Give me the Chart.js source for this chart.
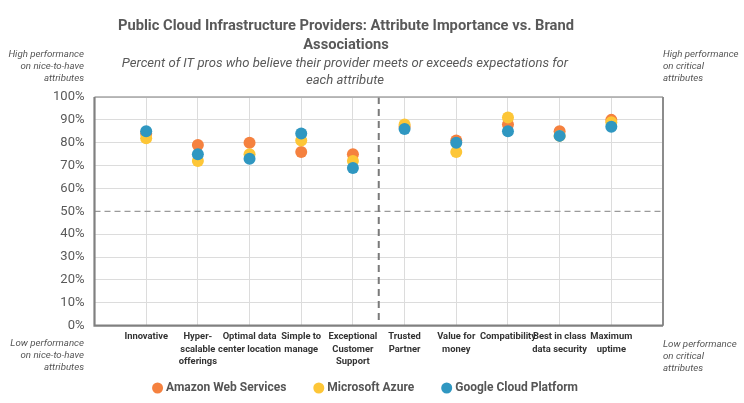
<!DOCTYPE html>
<html>
<head>
<meta charset="utf-8">
<script src="https://cdn.jsdelivr.net/npm/chart.js@4/dist/chart.umd.min.js"></script>
<style>
html,body{margin:0;padding:0;background:#fff;}
#wrap{width:744px;height:403px;position:relative;}
</style>
</head>
<body>
<div id="wrap"><canvas id="c" width="744" height="403"></canvas></div>
<script>
const categories = [
  ['Innovative'],
  ['Hyper-','scalable','offerings'],
  ['Optimal data','center location'],
  ['Simple to','manage'],
  ['Exceptional','Customer','Support'],
  ['Trusted','Partner'],
  ['Value for','money'],
  ['Compatibility'],
  ['Best in class','data security'],
  ['Maximum','uptime']
];
const seriesNames = ['Amazon Web Services','Microsoft Azure','Google Cloud Platform'];
const aws    = [84, 79, 80, 76, 75, 87, 81, 88, 85, 90];
const azure  = [82, 72, 75, 81, 72, 88, 76, 91, 83, 89];
const google = [85, 75, 73, 84, 69, 86, 80, 85, 83, 87];
const yTicks = [0,10,20,30,40,50,60,70,80,90,100];
const titleLines = ['Public Cloud Infrastructure Providers: Attribute Importance vs. Brand','Associations'];
const subtitleLines = ['Percent of IT pros who believe their provider meets or exceeds expectations for','each attribute'];
const cornerNotes = {
  tl: ['High performance','on nice-to-have','attributes'],
  tr: ['High performance','on critical','attributes'],
  bl: ['Low performance','on nice-to-have','attributes'],
  br: ['Low performance','on critical','attributes']
};
const threshold = 50;
const dividerX = 5.5;

const colors = ['#F5813F','#FDC637','#2F97C1'];
const FONT = 'Roboto';

function toPoints(arr){ return arr.map((v,i)=>({x:i+1,y:v})); }

const extras = {
  id:'extras',
  beforeDatasetsDraw(chart){
    const {ctx, chartArea:a, scales:{x,y}} = chart;
    ctx.save();
    const y50 = y.getPixelForValue(threshold);
    ctx.strokeStyle = '#9a9a9a'; ctx.lineWidth = 1.3; ctx.setLineDash([6,4]);
    ctx.beginPath(); ctx.moveTo(a.left, y50); ctx.lineTo(a.right, y50); ctx.stroke();
    const xd = x.getPixelForValue(dividerX);
    ctx.strokeStyle = '#7a7a7a'; ctx.lineWidth = 2; ctx.setLineDash([7,5]);
    ctx.beginPath(); ctx.moveTo(xd, a.top); ctx.lineTo(xd, a.bottom); ctx.stroke();
    ctx.setLineDash([]);
    ctx.strokeStyle = '#a6a6a6'; ctx.lineWidth = 1.5;
    ctx.beginPath(); ctx.moveTo(a.left, a.top); ctx.lineTo(a.right, a.top); ctx.stroke();
    ctx.strokeStyle = '#8c8c8c'; ctx.lineWidth = 2;
    ctx.beginPath(); ctx.moveTo(a.right, a.top); ctx.lineTo(a.right, a.bottom); ctx.stroke();
    ctx.strokeStyle = '#808080'; ctx.lineWidth = 2.2;
    ctx.beginPath(); ctx.moveTo(a.left, a.top); ctx.lineTo(a.left, a.bottom); ctx.lineTo(a.right, a.bottom); ctx.stroke();
    ctx.restore();
  },
  afterDraw(chart){
    const {ctx} = chart;
    ctx.save();
    ctx.textBaseline = 'middle';
    ctx.fillStyle = '#595959';
    ctx.textAlign = 'center';
    ctx.font = 'bold 14.7px ' + FONT;
    titleLines.forEach((t,i)=>ctx.fillText(t, 346, 26 + i*19));
    ctx.font = 'italic 13.1px ' + FONT;
    subtitleLines.forEach((t,i)=>ctx.fillText(t, 345, 64 + i*16.5));
    ctx.font = 'italic 9.7px ' + FONT;
    ctx.fillStyle = '#555';
    ctx.textAlign = 'right';
    cornerNotes.tl.forEach((t,i)=>ctx.fillText(t, 84, 55 + i*12));
    cornerNotes.bl.forEach((t,i)=>ctx.fillText(t, 84, 344 + i*12));
    ctx.textAlign = 'left';
    cornerNotes.tr.forEach((t,i)=>ctx.fillText(t, 663, 55 + i*12));
    cornerNotes.br.forEach((t,i)=>ctx.fillText(t, 663, 345 + i*12));
    ctx.font = 'bold 12px ' + FONT;
    const r = 5.5, gapCircle = 3, gapItem = 27;
    const widths = seriesNames.map(n=>ctx.measureText(n).width + 2*r + gapCircle);
    const total = widths.reduce((s,w)=>s+w,0) + gapItem*(seriesNames.length-1);
    let cx = 365 - total/2;
    const ly = 388;
    seriesNames.forEach((n,i)=>{
      ctx.fillStyle = colors[i];
      ctx.beginPath(); ctx.arc(cx + r, ly, r, 0, Math.PI*2); ctx.fill();
      ctx.fillStyle = '#555';
      ctx.textAlign = 'left';
      ctx.fillText(n, cx + 2*r + gapCircle, ly);
      cx += widths[i] + gapItem;
    });
    ctx.restore();
  }
};

const series = [aws, azure, google];
new Chart(document.getElementById('c'), {
  type: 'scatter',
  data: {
    datasets: series.map((s,i)=>({
      label: seriesNames[i],
      data: toPoints(s),
      backgroundColor: colors[i],
      borderColor: colors[i],
      pointRadius: 6,
      pointHoverRadius: 6,
      borderWidth: 0,
      order: 2 - i
    }))
  },
  options: {
    responsive: false,
    animation: false,
    layout: { padding: { top: 97, right: 81, bottom: 0, left: 0 } },
    plugins: { legend: { display: false }, tooltip: { enabled: false }, title: { display: false } },
    scales: {
      x: {
        type: 'linear', min: 0, max: categories.length + 1,
        afterFit(s){ s.height = 77.3; },
        border: { display: false },
        grid: { color: (c)=> (c.tick && c.tick.value>=1 && c.tick.value<=categories.length) ? '#dcdcdc' : 'rgba(0,0,0,0)', lineWidth: 1, drawTicks: false },
        afterBuildTicks(s){ s.ticks = Array.from({length: categories.length + 2}, (_,i)=>({value:i})); },
        ticks: {
          autoSkip: false, maxRotation: 0, padding: 5,
          font: { family: FONT, size: 9.4, weight: 'bold', lineHeight: 1.33 },
          color: '#333',
          callback: (v)=> (v>=1 && v<=categories.length) ? categories[v-1] : ''
        }
      },
      y: {
        min: 0, max: 100,
        afterFit(s){ s.width = 94.5; },
        afterBuildTicks(s){ s.ticks = yTicks.map(v=>({value:v})); },
        border: { display: false },
        grid: { color: (c)=> (c.tick && c.tick.value===threshold) ? 'rgba(0,0,0,0)' : '#dcdcdc', lineWidth: 1, drawTicks: false },
        ticks: {
          padding: 10,
          font: { family: FONT, size: 13 },
          color: '#595959',
          callback: (v)=> v + '%'
        }
      }
    }
  },
  plugins: [extras]
});
</script>
</body>
</html>
